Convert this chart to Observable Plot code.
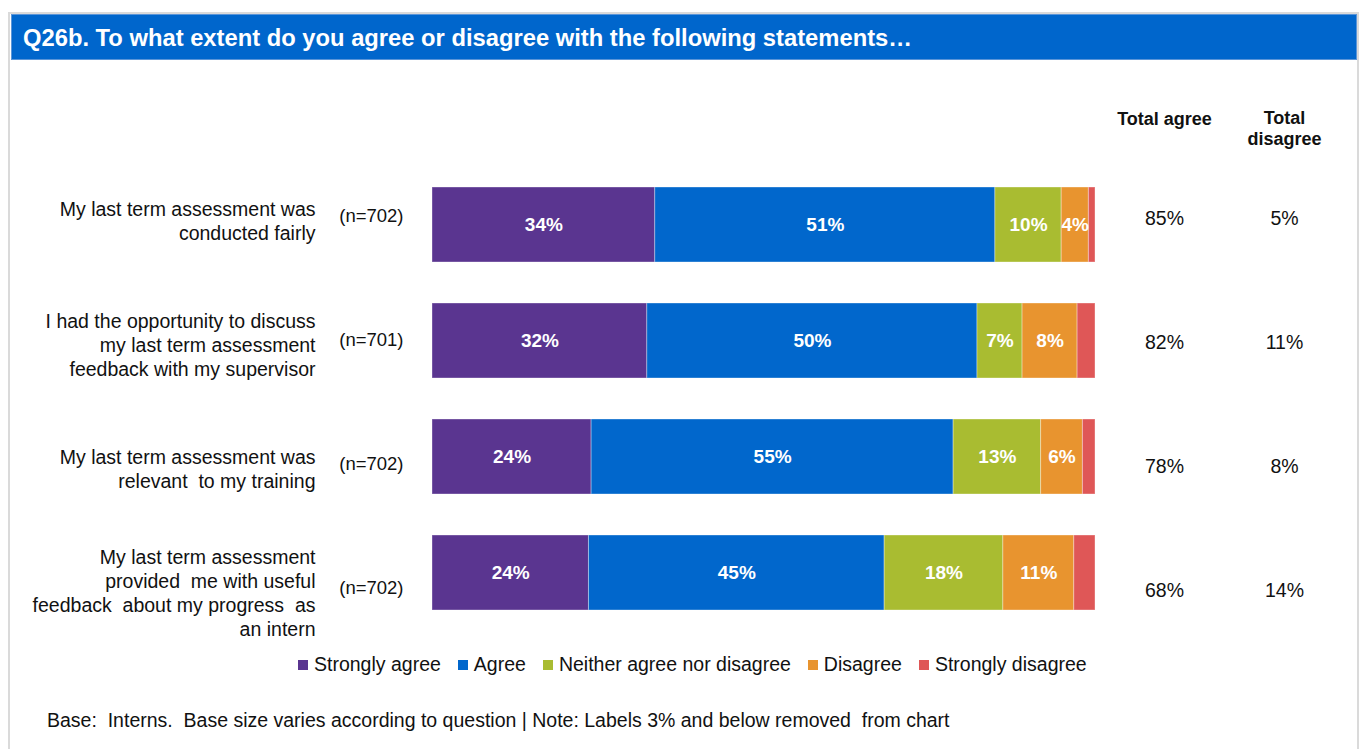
<!DOCTYPE html>
<html><head><meta charset="utf-8">
<script src="https://cdn.jsdelivr.net/npm/d3@7"></script>
<script src="https://cdn.jsdelivr.net/npm/@observablehq/plot@0.6"></script>
<style>
body{margin:0;background:#fff;font-family:"Liberation Sans",Arial,sans-serif;width:1365px;height:749px;overflow:hidden;position:relative}
#frame{position:absolute;left:8px;top:12px;width:1347px;height:800px;border:2px solid #dadada;border-bottom:none}
#header{position:absolute;left:11px;top:14px;width:1333px;height:44px;background:#0066CC;border:1px solid #5b95d8;color:#fff;font-weight:bold;font-size:23.75px;line-height:45px;padding-left:11px;box-sizing:content-box;white-space:nowrap;overflow:hidden}
#chart,#table{position:absolute;left:0;top:70px}
#legend{position:absolute;left:298px;top:653px;display:flex;gap:17px;font-size:19.5px;color:#111;white-space:nowrap}
#legend .item{display:flex;align-items:center}
#legend .sw{width:10px;height:10px;margin-right:6px}
#footer{position:absolute;left:47px;top:709px;font-size:19.5px;color:#111;white-space:pre}
</style></head>
<body>
<div id="frame"></div>
<div id="header"></div>
<div id="chart"></div>
<div id="table"></div>
<div id="legend"></div>
<div id="footer"></div>
<script>
const title = "Q26b. To what extent do you agree or disagree with the following statements…";
const footnote = "Base:  Interns.  Base size varies according to question | Note: Labels 3% and below removed  from chart";
const statements = [
  "My last term assessment was\nconducted fairly",
  "I had the opportunity to discuss\nmy last term assessment\nfeedback with my supervisor",
  "My last term assessment was\nrelevant  to my training",
  "My last term assessment\nprovided  me with useful\nfeedback  about my progress  as\nan intern"
];
const baseSizes = ["(n=702)", "(n=701)", "(n=702)", "(n=702)"];
const responses = ["Strongly agree", "Agree", "Neither agree nor disagree", "Disagree", "Strongly disagree"];
const colors = ["#5A3590", "#0167CC", "#A9BC31", "#E8942F", "#DF5757"];
const stronglyAgree = [33.6, 32.4, 24.0, 23.6];
const agree = [51.3, 49.8, 54.6, 44.6];
const neither = [10.0, 6.8, 13.2, 17.9];
const disagree = [4.1, 8.3, 6.3, 10.7];
const stronglyDisagree = [1.0, 2.7, 1.9, 3.2];
const totalAgree = [85, 82, 78, 68];
const totalDisagree = [5, 11, 8, 14];
const columnHeaders = ["Total agree", "Total\ndisagree"];

document.getElementById("header").textContent = title;
document.getElementById("footer").textContent = footnote;

const series = [stronglyAgree, agree, neither, disagree, stronglyDisagree];
const rows = [];
statements.forEach((s, i) => {
  responses.forEach((r, j) => rows.push({statement: s, response: r, value: series[j][i]}));
});
const totals = statements.map((s, i) => ({statement: s, agree: totalAgree[i], disagree: totalDisagree[i], n: baseSizes[i]}));

const font = "'Liberation Sans', Arial, sans-serif";
const chart = Plot.plot({
  width: 1365,
  height: 593,
  marginLeft: 432,
  marginRight: 270,
  marginTop: 75,
  marginBottom: 10,
  x: {domain: [0, 100], axis: null},
  y: {domain: statements, axis: null, padding: 0.35},
  color: {domain: responses, range: colors},
  style: {fontFamily: font, background: "transparent", color: "#111", overflow: "visible"},
  marks: [
    Plot.barX(rows, Plot.stackX({x: "value", y: "statement", fill: "response", order: responses, stroke: "#fff", strokeOpacity: 0.35, strokeWidth: 1})),
    Plot.text(rows, Plot.stackX({x: "value", y: "statement", z: "response", order: responses,
      text: d => Math.round(d.value) > 3 ? Math.round(d.value) + "%" : "",
      fill: "#fff", fontWeight: "bold", fontSize: 19}))
  ]
});
document.getElementById("chart").appendChild(chart);

// Side table: statement labels, base sizes and totals, on their own row grid
const table = Plot.plot({
  width: 1365,
  height: 593,
  marginLeft: 432,
  marginRight: 270,
  marginTop: 84.7,
  marginBottom: 9.6,
  x: {domain: [0, 100], axis: null},
  y: {type: "point", domain: statements, axis: null, padding: 0.5},
  style: {fontFamily: font, background: "transparent", color: "#111", overflow: "visible"},
  marks: [
    Plot.text(statements, {y: d => d, text: d => d, frameAnchor: "left", dx: -117, dy: 2, textAnchor: "end", fontSize: 19.5, lineHeight: 1.22, fill: "#111"}),
    Plot.text(totals, {y: "statement", text: "n", frameAnchor: "left", dx: -29, dy: -2, textAnchor: "end", fontSize: 18.5, fill: "#111"}),
    Plot.text(totals, {y: "statement", text: d => d.agree + "%", frameAnchor: "right", dx: 69, textAnchor: "middle", fontSize: 19.5, fill: "#111"}),
    Plot.text(totals, {y: "statement", text: d => d.disagree + "%", frameAnchor: "right", dx: 189, textAnchor: "middle", fontSize: 19.5, fill: "#111"}),
    Plot.text([columnHeaders[0]], {text: d => d, frameAnchor: "top-right", dx: 69, dy: -43, textAnchor: "middle", fontSize: 18, fontWeight: "bold", fill: "#111"}),
    Plot.text([columnHeaders[1]], {text: d => d, frameAnchor: "top-right", dx: 189, dy: -47, textAnchor: "middle", fontSize: 18, fontWeight: "bold", lineHeight: 1.2, fill: "#111"})
  ]
});
document.getElementById("table").appendChild(table);

const legend = document.getElementById("legend");
responses.forEach((r, i) => {
  const item = document.createElement("div");
  item.className = "item";
  const sw = document.createElement("span");
  sw.className = "sw";
  sw.style.background = colors[i];
  const label = document.createElement("span");
  label.textContent = r;
  item.appendChild(sw);
  item.appendChild(label);
  legend.appendChild(item);
});
</script>
</body></html>
